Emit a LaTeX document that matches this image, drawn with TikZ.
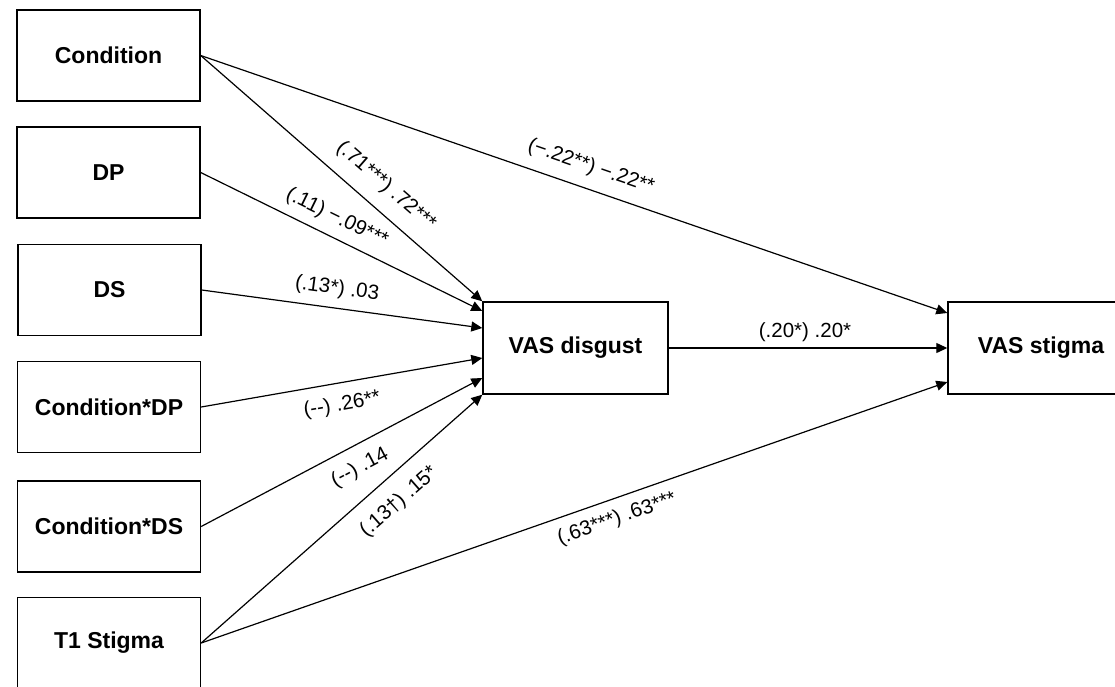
\documentclass[tikz,border=0pt]{standalone}
\usepackage{fontspec}
\setmainfont{Liberation Sans}
\usetikzlibrary{arrows.meta}
\begin{document}
\begin{tikzpicture}[x=1pt,y=-1pt,
  box/.style={draw, line width=1.4pt, minimum width=183pt, minimum height=91pt, inner sep=0pt,
    font=\fontsize{23}{27}\selectfont\bfseries},
  lbl/.style={font=\fontsize{20.5}{24}\selectfont, inner sep=0pt},
  arr/.style={line width=1.2pt, -{Triangle[length=11pt,width=10pt]}}]
\useasboundingbox (0,0) rectangle (1115,687);
% boxes
\node[box] (cond) at (108.5,55.5) {Condition};
\node[box] (dp)   at (108.5,172.5) {DP};
\node[box] (ds)   at (109.5,290) {DS};
\node[box] (cdp)  at (109,407) {Condition*DP};
\node[box] (cds)  at (109,526.5) {Condition*DS};
\node[box] (t1)   at (109,643) {T1 Stigma};
\node[box, minimum width=185pt, minimum height=92pt] (vd) at (575.5,348) {VAS disgust};
\node[box, minimum width=186pt, minimum height=92pt] (vs) at (1041,348) {VAS stigma};
% connectors
\draw[arr] (cond.east) -- (vd.north west);
\draw[arr] (cond.east) -- ([yshift=35pt]vs.west);
\draw[arr] (dp.east) -- ([yshift=37pt]vd.west);
\draw[arr] (ds.east) -- ([yshift=20pt]vd.west);
\draw[arr] (cdp.east) -- ([yshift=-10pt]vd.west);
\draw[arr] (cds.east) -- ([yshift=-30pt]vd.west);
\draw[arr] (t1.east) -- (vd.south west);
\draw[arr] (t1.east) -- ([yshift=-34pt]vs.west);
\draw[arr] (vd.east) -- (vs.west);
% labels
\node[lbl, rotate=-41] (l1) at (386,186) {(.71***) .72***};
\node[lbl, rotate=-26.1] (l2) at (337,218) {(.11) −.09***};
\node[lbl, rotate=-7.7] (l3) at (337,289) {(.13*) .03};
\node[lbl, rotate=9.9] (l4) at (342,405) {(-{}-) .26**};
\node[lbl, rotate=27.8] (l5) at (360,468) {(-{}-) .14};
\node[lbl, rotate=41.4] (l6) at (399,502) {(.13†) .15*};
\node[lbl, rotate=-19] (l7) at (591,167) {(−.22**) −.22**};
\node[lbl, rotate=19.3] (l8) at (617,519) {(.63***) .63***};
\node[lbl] (l9) at (805,332) {(.20*) .20*};
\end{tikzpicture}
\end{document}
